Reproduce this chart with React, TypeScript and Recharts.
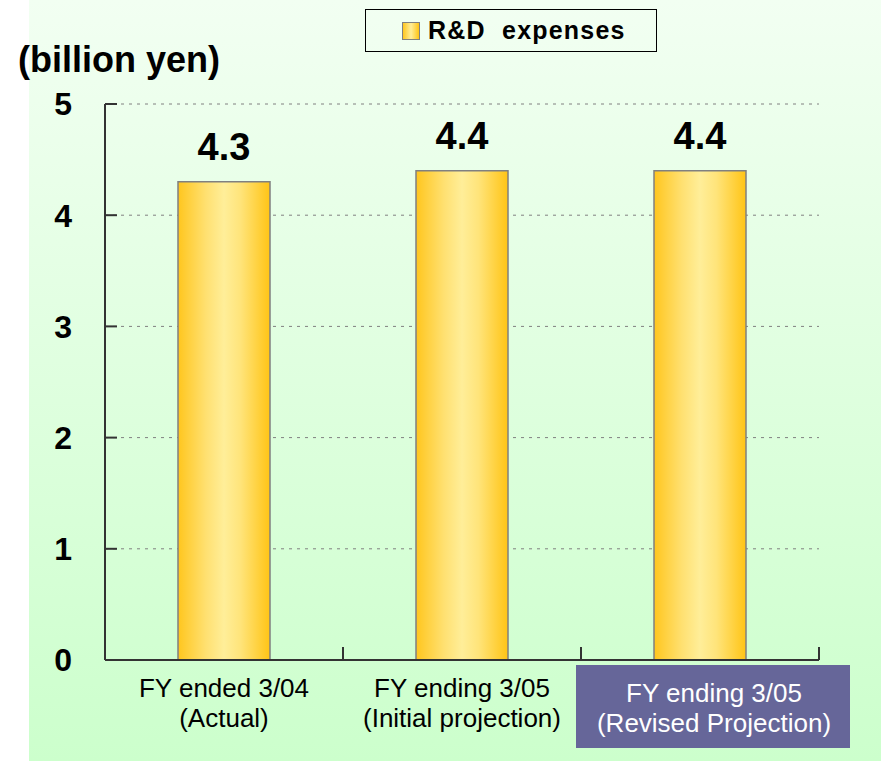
import React from 'react';
import { BarChart, Bar, XAxis, YAxis, CartesianGrid, LabelList } from 'recharts';

const categories = ['FY ended 3/04|(Actual)', 'FY ending 3/05|(Initial projection)', 'FY ending 3/05|(Revised Projection)'];
const rdExpenses = [4.3, 4.4, 4.4];
const yTicks = [0, 1, 2, 3, 4, 5];
const seriesName = 'R&D  expenses';
const unitLabel = '(billion yen)';

const data = categories.map((c, i) => ({ name: c, value: rdExpenses[i] }));

const FONT = '"Liberation Sans", Arial, sans-serif';

const XTick = (props: any) => {
  const { x, y, payload, index, width, visibleTicksCount } = props;
  const count = visibleTicksCount || 3;
  const half = (width ? width / count : 238) / 2;
  const [l1, l2] = String(payload.value).split('|');
  const highlighted = index === 2;
  return (
    <g>
      <line x1={x - half} y1={y} x2={x - half} y2={y - 13} stroke="#333" strokeWidth={2} />
      {index === count - 1 && (
        <line x1={x + half} y1={y} x2={x + half} y2={y - 13} stroke="#333" strokeWidth={2} />
      )}
      {highlighted ? (
        <g>
          <rect x={x - 124} y={y + 5} width={274} height={83} fill="#666699" />
          <text x={x + 14} y={y + 42} textAnchor="middle" fontFamily={FONT} fontSize={26} fill="#ffffff">{l1}</text>
          <text x={x + 14} y={y + 72} textAnchor="middle" fontFamily={FONT} fontSize={26} fill="#ffffff">{l2}</text>
        </g>
      ) : (
        <g>
          <text x={x} y={y + 37} textAnchor="middle" fontFamily={FONT} fontSize={26} fill="#000">{l1}</text>
          <text x={x} y={y + 67} textAnchor="middle" fontFamily={FONT} fontSize={26} fill="#000">{l2}</text>
        </g>
      )}
    </g>
  );
};

export default function App() {
  return (
    <div style={{ position: 'absolute', left: 0, top: 0, width: 881, height: 761, background: '#fff', overflow: 'hidden' }}>
      <div style={{ position: 'absolute', left: 29, top: 0, right: 0, bottom: 0, background: 'linear-gradient(to bottom, #f2fff2 0%, #ccffcc 100%)' }} />
      <div style={{ position: 'absolute', left: 365, top: 9, width: 290, height: 41, border: '1px solid #000', display: 'flex', alignItems: 'center', boxSizing: 'content-box' }}>
        <div style={{ marginLeft: 36, width: 16, height: 16, border: '1px solid #808080', background: 'linear-gradient(to right, #ffc61e, #ffee99 50%, #ffc415)' }} />
        <span style={{ marginLeft: 8, fontFamily: FONT, fontWeight: 'bold', fontSize: 25, letterSpacing: 1.2, whiteSpace: 'pre', color: '#000' }}>{seriesName}</span>
      </div>
      <div style={{ position: 'absolute', left: 0, top: 0 }}>
        <BarChart width={881} height={761} data={data} margin={{ top: 104, right: 62, bottom: 11, left: 25 }}>
          <defs>
            <linearGradient id="barGrad" x1="0" y1="0" x2="1" y2="0">
              <stop offset="0%" stopColor="#ffc61e" />
              <stop offset="30%" stopColor="#ffe070" />
              <stop offset="50%" stopColor="#ffee99" />
              <stop offset="68%" stopColor="#ffe47a" />
              <stop offset="100%" stopColor="#ffc415" />
            </linearGradient>
          </defs>
          <CartesianGrid vertical={false} stroke="#808080" strokeDasharray="3 5" />
          <XAxis
            dataKey="name"
            height={90}
            tickLine={false}
            tickSize={0}
            tickMargin={0}
            axisLine={{ stroke: '#333', strokeWidth: 2 }}
            tick={<XTick />}
            interval={0}
          />
          <YAxis
            width={80}
            domain={[0, 5]}
            ticks={yTicks}
            interval={0}
            tickSize={-12}
            tickMargin={45}
            axisLine={{ stroke: '#333', strokeWidth: 2 }}
            tickLine={{ stroke: '#333', strokeWidth: 2 }}
            tick={{ fontFamily: FONT, fontSize: 32, fontWeight: 'bold', fill: '#000' }}
            label={{
              content: () => (
                <text x={18} y={72} fontFamily={FONT} fontSize={36} fontWeight="bold" fill="#000">{unitLabel}</text>
              ),
            }}
          />
          <Bar dataKey="value" barSize={92} fill="url(#barGrad)" stroke="#808080" strokeWidth={1.5} isAnimationActive={false}>
            <LabelList
              dataKey="value"
              position="top"
              offset={22}
              formatter={(v: any) => Number(v).toFixed(1)}
              style={{ fontFamily: FONT, fontSize: 38, fontWeight: 'bold', fill: '#000' }}
            />
          </Bar>
        </BarChart>
      </div>
    </div>
  );
}
